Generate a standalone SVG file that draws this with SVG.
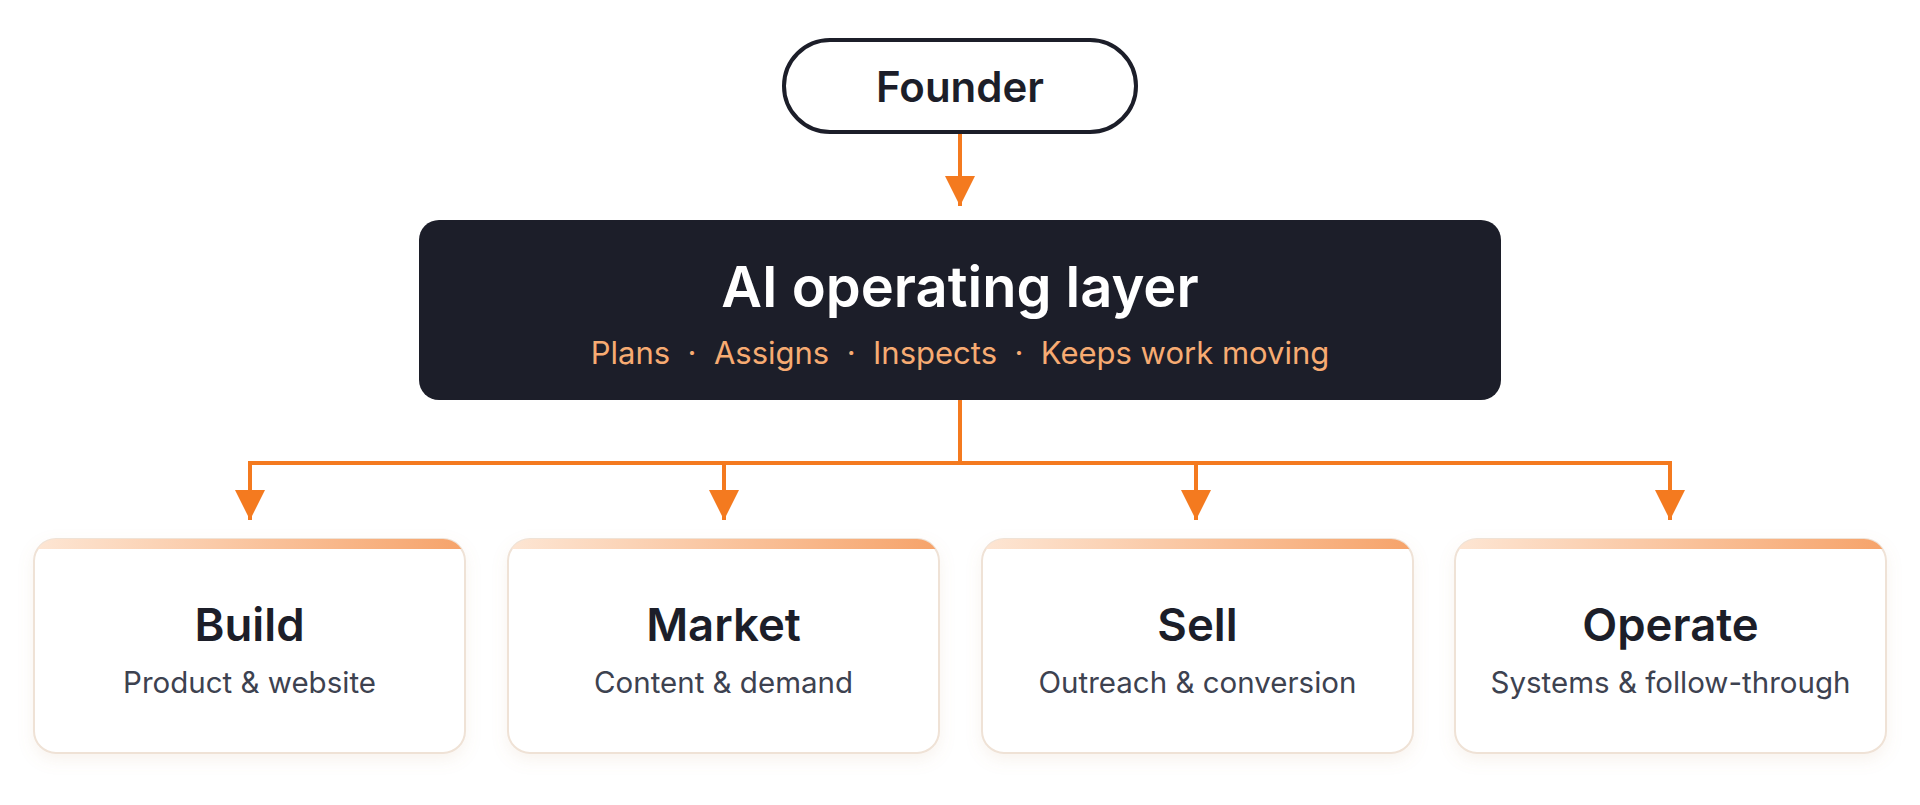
<svg xmlns="http://www.w3.org/2000/svg" width="1920" height="805" viewBox="0 0 1920 805">
<style>
.t{font-family:Inter,"Noto Sans",sans-serif}
.card{fill:#fff;stroke:#efe2d6;stroke-width:2}
.ct{font-size:45.5px;font-weight:600;fill:#1c1e29;text-anchor:middle}
.cs{font-size:29.5px;fill:#3d4250;text-anchor:middle}
.c{stroke:#f47a1f;stroke-width:4;fill:none}
</style>
<defs>
<linearGradient id="g" x1="0" x2="1"><stop offset="0" stop-color="#fde6d4"/><stop offset="1" stop-color="#f6a36a"/></linearGradient>
<marker id="a" viewBox="0 0 10 10" refX="10" refY="5" markerWidth="7.5" markerHeight="7.5" markerUnits="strokeWidth" orient="auto"><path d="M0,0 L10,5 L0,10z" fill="#f47a1f"/></marker>
<filter id="sh" x="-10%" y="-10%" width="120%" height="130%"><feDropShadow dx="0" dy="6" stdDeviation="8" flood-color="#c89a70" flood-opacity="0.12"/></filter>
<clipPath id="k1"><rect x="34" y="539" width="431" height="214" rx="22"/></clipPath>
<clipPath id="k2"><rect x="508" y="539" width="431" height="214" rx="22"/></clipPath>
<clipPath id="k3"><rect x="982" y="539" width="431" height="214" rx="22"/></clipPath>
<clipPath id="k4"><rect x="1455" y="539" width="431" height="214" rx="22"/></clipPath>
</defs>
<rect width="1920" height="805" fill="#fff"/>
<g id="connectors">
<path class="c" d="M960,132 V206" marker-end="url(#a)"/>
<path class="c" d="M960,400 V463 M250,463 H1670"/>
<path class="c" d="M250,461 V520" marker-end="url(#a)"/>
<path class="c" d="M724,463 V520" marker-end="url(#a)"/>
<path class="c" d="M1196,463 V520" marker-end="url(#a)"/>
<path class="c" d="M1670,461 V520" marker-end="url(#a)"/>
</g>
<g id="founder">
<rect x="784" y="40" width="352" height="92" rx="46" fill="#fff" stroke="#1c1e29" stroke-width="4"/>
<text class="t" x="960" y="102" font-size="42" font-weight="600" fill="#1c1e29" text-anchor="middle">Founder</text>
</g>
<g id="ai-layer">
<rect x="419" y="220" width="1082" height="180" rx="20" fill="#1c1e29"/>
<text class="t" x="960" y="307" font-size="56" font-weight="600" fill="#fff" text-anchor="middle">AI operating layer</text>
<text class="t" x="960" y="364" font-size="31" fill="#f7ab72" text-anchor="middle" xml:space="preserve">Plans  ·  Assigns  ·  Inspects  ·  Keeps work moving</text>
</g>
<g id="build">
<rect class="card" x="34" y="539" width="431" height="214" rx="22" filter="url(#sh)"/>
<rect x="34" y="539" width="431" height="10" fill="url(#g)" clip-path="url(#k1)"/>
<text class="t ct" x="249.5" y="641">Build</text>
<text class="t cs" x="249.5" y="693">Product &amp; website</text>
</g>
<g id="market">
<rect class="card" x="508" y="539" width="431" height="214" rx="22" filter="url(#sh)"/>
<rect x="508" y="539" width="431" height="10" fill="url(#g)" clip-path="url(#k2)"/>
<text class="t ct" x="723.5" y="641">Market</text>
<text class="t cs" x="723.5" y="693">Content &amp; demand</text>
</g>
<g id="sell">
<rect class="card" x="982" y="539" width="431" height="214" rx="22" filter="url(#sh)"/>
<rect x="982" y="539" width="431" height="10" fill="url(#g)" clip-path="url(#k3)"/>
<text class="t ct" x="1197.5" y="641">Sell</text>
<text class="t cs" x="1197.5" y="693">Outreach &amp; conversion</text>
</g>
<g id="operate">
<rect class="card" x="1455" y="539" width="431" height="214" rx="22" filter="url(#sh)"/>
<rect x="1455" y="539" width="431" height="10" fill="url(#g)" clip-path="url(#k4)"/>
<text class="t ct" x="1670.5" y="641">Operate</text>
<text class="t cs" x="1670.5" y="693">Systems &amp; follow-through</text>
</g>
</svg>
